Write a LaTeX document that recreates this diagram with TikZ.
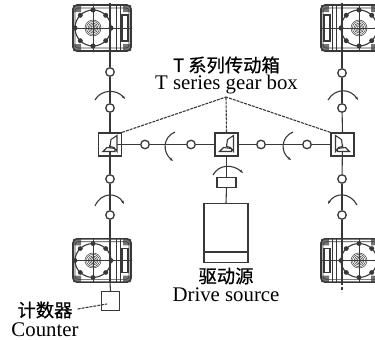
\documentclass[tikz,border=0pt]{standalone}
\usepackage{fontspec}
\setmainfont{Liberation Serif}
\newfontfamily\cjk{Noto Sans CJK SC}[FakeBold=0.8]
\usetikzlibrary{arrows.meta}
\definecolor{ink}{gray}{0.22}
\tikzset{
  shaft/.style={draw=ink,line width=1.1pt},
  joint/.style={circle,draw=ink,line width=1.3pt,fill=white,minimum size=8.5pt,inner sep=0pt},
  boxnode/.style={rectangle,draw=ink,line width=1.3pt,inner sep=0pt},
  gearbox/.style={boxnode,minimum size=23pt},
  lead/.style={draw=ink,line width=1.1pt,dash pattern=on 3pt off 1pt},
  spin/.style={draw=ink,line width=1.1pt,-{Stealth[length=3.5pt,width=2.6pt]}},
  txt/.style={inner sep=0pt,text=black,font=\fontsize{20.8}{20.8}\selectfont},
  cjktxt/.style={inner sep=0pt,text=black,font=\cjk\fontsize{18.3}{18.3}\selectfont},
  pics/wheel/.style={code={
    \fill[ink!70] (-29,-23) rectangle +(8,7) (29,-23) rectangle +(-8,7) (-29,23) rectangle +(8,-7) (29,23) rectangle +(-8,-7);
    \draw[ink,line width=1.6pt,rounded corners=4pt] (-29,-23) rectangle (29,23);
    \draw[ink,line width=0.6pt,rounded corners=3pt] (-27,-20) rectangle (27,20);
    \draw[ink,line width=1.1pt] (-9,0) circle (18);
    \foreach \a in {45,90,...,360}{\fill[ink] (-9,0)++(\a:18) circle (2.5);}
    \foreach \r in {2,3.5,5,6.5,8}{\draw[ink,line width=0.5pt] (-9,0) circle (\r);}
    \draw[ink,line width=1pt] (-29,0) -- (29,0);
    \draw[ink,line width=1pt] (-9,-23) -- (-9,23);
    \draw[ink,line width=0.9pt] (14,-23) -- (14,23) (18,-23)--(18,23);
    \draw[ink,line width=1.2pt] (20,-13) rectangle (26,13);
  }},
  pics/bevel/.style={code={
    \draw[ink,line width=1.1pt,fill=white] (-7,7) -- (5,7) -- (5,4) -- (-3,3) -- cycle;
    \draw[ink,line width=1.1pt,fill=white] (0,2) -- (1,-5) -- (7,-9) -- (7,7) -- (4,3) -- cycle;
  }},
}
\begin{document}
\begin{tikzpicture}[x=1pt,y=-1pt]
\useasboundingbox (0,0) rectangle (375,340);
% free ends
\coordinate (lt) at (110,3);
\coordinate (lb) at (110,282);
\coordinate (rt) at (342,3);
\coordinate (rb) at (342,282);
\coordinate (rbe) at (342,292);
\coordinate (apex) at (226,97);
\coordinate (cntin) at (107,304);
% wheels
\pic at (102,28) {wheel};
\pic[xscale=-1] at (350,28) {wheel};
\pic[yscale=0.94] at (102,260.5) {wheel};
\pic[xscale=-1,yscale=0.94] at (350,260.5) {wheel};
% gear boxes
\node[gearbox] (gl) at (110,144.5) {};
\node[gearbox] (gm) at (226.5,144.5) {};
\node[gearbox] (gr) at (342.5,144.5) {};
% joints
\node[joint] (a1) at (110,72) {};
\node[joint] (a2) at (110,108) {};
\node[joint] (a3) at (110,179) {};
\node[joint] (a4) at (110,215) {};
\node[joint] (b1) at (342,73) {};
\node[joint] (b2) at (342,108) {};
\node[joint] (b3) at (342,179) {};
\node[joint] (b4) at (342,215) {};
\node[joint] (h1) at (145,144.5) {};
\node[joint] (h2) at (191,144.5) {};
\node[joint] (h3) at (261,144.5) {};
\node[joint] (h4) at (307,144.5) {};
% coupling, drive, counter
\node[boxnode,minimum width=19pt,minimum height=9.5pt] (cp) at (226.5,182.5) {};
\node[boxnode,minimum width=44pt,minimum height=59pt,anchor=north] (ds) at (226,203) {};
\draw[ink,line width=1.3pt] (ds.west |- 0,252) -- (ds.east |- 0,252);
\node[boxnode,minimum size=18.5pt] (cnt) at (110.5,301) {};
% shafts
\draw[shaft] (lt) -- (a1);
\draw[shaft] (a1) -- (a2);
\draw[shaft] (a2) -- (gl.north);
\draw[shaft] (gl.center) -- (a3);
\draw[shaft] (a3) -- (a4);
\draw[shaft] (a4) -- (lb);
\draw[shaft] (lb) -- (cnt.north);
\draw[shaft] (rt) -- (b1);
\draw[shaft] (b1) -- (b2);
\draw[shaft] (b2) -- (gr.north);
\draw[shaft] (gr.center) -- (b3);
\draw[shaft] (b3) -- (b4);
\draw[shaft] (b4) -- (rb);
\draw[shaft,dash pattern=on 3pt off 2pt] (rb) -- (rbe);
\draw[shaft] (gl.center) -- (h1);
\draw[shaft] (h1) -- (h2);
\draw[shaft] (h2) -- (gm.west);
\draw[shaft] (gm.east) -- (h3);
\draw[shaft] (h3) -- (h4);
\draw[shaft] (h4) -- (gr.west);
\draw[shaft] (gm.south) -- (cp.north);
\draw[shaft] (cp.south) -- (ds.north);
% bevel gears
\pic at (gl.center) {bevel};
\pic at (gm.center) {bevel};
\pic[xscale=-1] at (gr.center) {bevel};
% rotation arcs
\draw[spin] (95,100) .. controls (101,89) and (117,89) .. (125,99);
\draw[spin] (95,206) .. controls (101,192) and (117,192) .. (124,204);
\draw[spin] (328,100) .. controls (335,88) and (350,88) .. (358,100);
\draw[spin] (357,205) .. controls (350,192) and (335,192) .. (328,204);
\draw[spin] (175,132) .. controls (163,137) and (162,152) .. (173,161);
\draw[spin] (293,132) .. controls (281,137) and (280,152) .. (291,160);
\draw[spin] (213,175) .. controls (219,164) and (233,164) .. (243,173);
% text
\node[cjktxt] (t1) at (226.5,65) {T 系列传动箱};
\node[txt] (t2) at (226.5,84.5) {T series gear box};
\node[cjktxt] (t3) at (226,276) {驱动源};
\node[txt] (t4) at (226,295) {Drive source};
\node[cjktxt] (t5) at (45,310) {计数器};
\node[txt] (t6) at (45,330) {Counter};
% leaders
\draw[lead] (gl.north east) -- (apex);
\draw[lead] (gm.north) -- (apex);
\draw[lead] (gr.north west) -- (apex);
\draw[lead] (t5.east) ++(5,-1) -- (cntin);
\end{tikzpicture}
\end{document}
